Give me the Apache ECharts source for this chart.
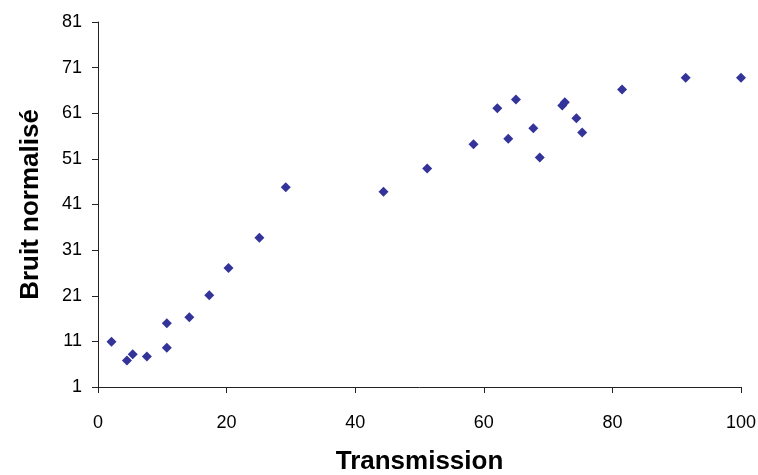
<!DOCTYPE html>
<html>
<head>
<meta charset="utf-8">
<script src="https://cdn.jsdelivr.net/npm/echarts@6/dist/echarts.min.js"></script>
<style>html,body{margin:0;padding:0;background:#fff}#c{width:758px;height:475px}</style>
</head>
<body>
<div id="c"></div>
<script>
var transmission = [2.1, 4.5, 5.4, 7.6, 10.7, 10.7, 14.2, 17.3, 20.3, 25.1, 29.2, 44.4, 51.2, 58.4, 62.1, 63.8, 65.0, 67.7, 68.7, 72.2, 72.6, 74.4, 75.3, 81.5, 91.4, 100.0];
var bruit =        [10.9, 6.8, 8.2, 7.7, 15.0, 9.6, 16.3, 21.1, 27.1, 33.7, 44.8, 43.8, 48.9, 54.2, 62.1, 55.4, 64.0, 57.7, 51.3, 62.7, 63.4, 59.9, 56.8, 66.2, 68.8, 68.8];
var xTitle = 'Transmission';
var yTitle = 'Bruit normalisé';

var pts = transmission.map(function (x, i) { return [x, bruit[i]]; });
var chart = echarts.init(document.getElementById('c'), null, { renderer: 'canvas' });
var font = 'Liberation Sans, Arial, sans-serif';
chart.setOption({
  animation: false,
  backgroundColor: '#ffffff',
  grid: { left: 98, right: 17, top: 22, bottom: 88, containLabel: false, outerBoundsMode: 'none' },
  xAxis: {
    type: 'value', min: 0, max: 100, interval: 20,
    name: xTitle, nameLocation: 'middle', nameGap: 62,
    nameTextStyle: { fontFamily: font, fontWeight: 'bold', fontSize: 26, color: '#000' },
    axisLine: { show: true, onZero: false, lineStyle: { color: '#222', width: 1 } },
    axisTick: { show: true, length: 6, lineStyle: { color: '#222' } },
    axisLabel: { fontFamily: font, fontSize: 18, color: '#000', margin: 27 },
    splitLine: { show: false }
  },
  yAxis: {
    type: 'value', min: 1, max: 81, interval: 10,
    name: yTitle, nameLocation: 'middle', nameGap: 54,
    nameTextStyle: { fontFamily: font, fontWeight: 'bold', fontSize: 26, color: '#000' },
    axisLine: { show: true, onZero: false, lineStyle: { color: '#222', width: 1 } },
    axisTick: { show: true, length: 6, lineStyle: { color: '#222' } },
    axisLabel: { fontFamily: font, fontSize: 18, color: '#000', margin: 16 },
    splitLine: { show: false }
  },
  series: [{
    type: 'scatter',
    data: pts,
    symbol: 'diamond',
    symbolSize: 10,
    itemStyle: { color: '#333399', opacity: 1 }
  }]
});
</script>
</body>
</html>
